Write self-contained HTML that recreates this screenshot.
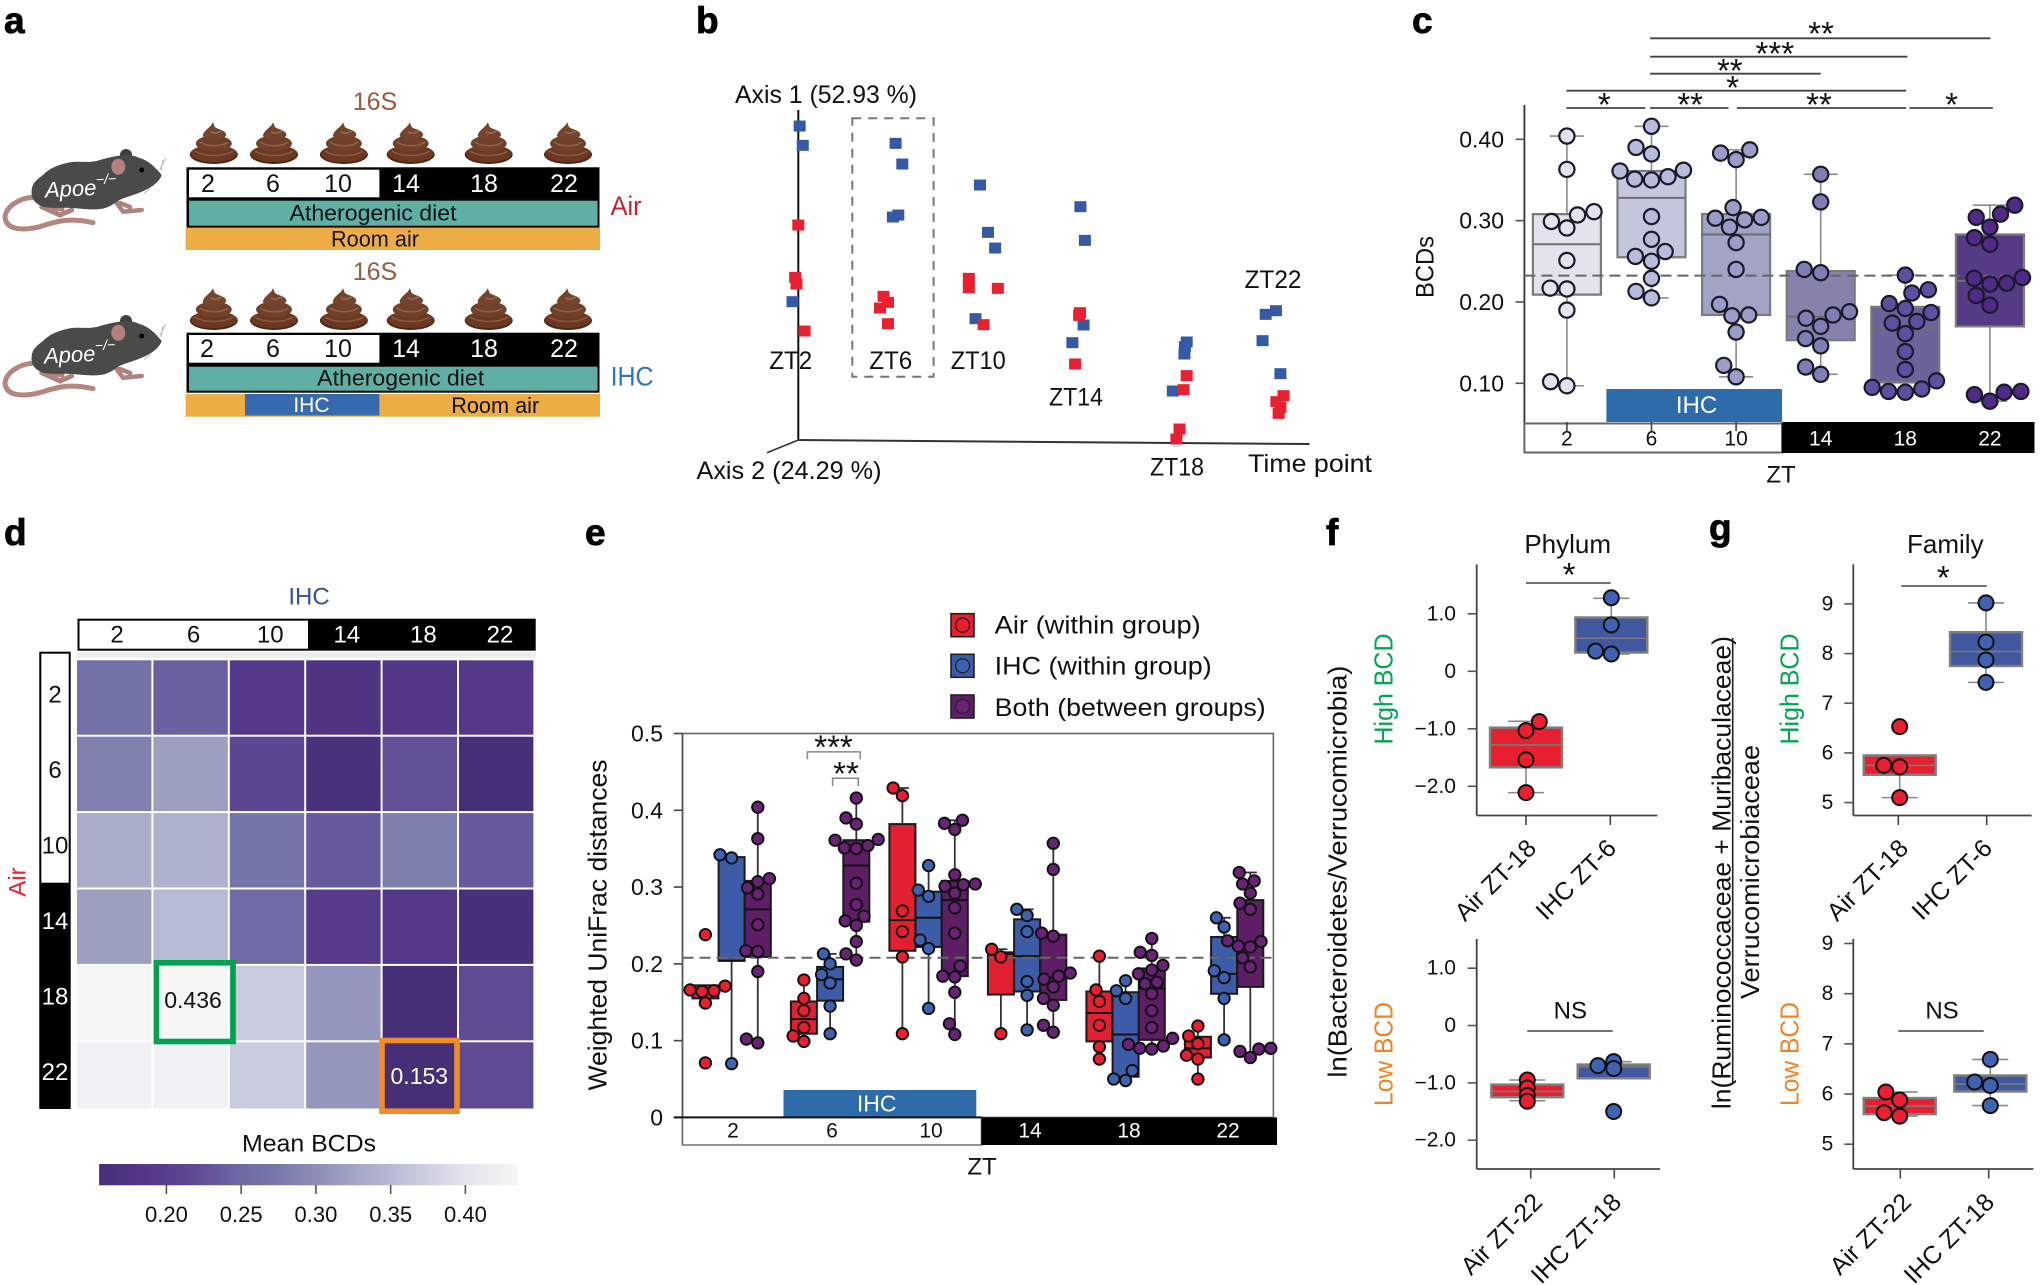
<!DOCTYPE html>
<html lang="en">
<head>
<meta charset="utf-8">
<title>Gut microbiome diurnal dissimilarity figure</title>
<style>
html,body{margin:0;padding:0;background:#fff;}
svg{display:block;font-family:"Liberation Sans",sans-serif;}
text{dominant-baseline:central;fill:#111;}
.letter{font-weight:bold;font-size:37px;dominant-baseline:auto;fill:#000;stroke:#000;stroke-width:.8px;}
</style>
</head>
<body>
<svg id="figure" xmlns="http://www.w3.org/2000/svg" width="2040" height="1285" viewBox="0 0 2040 1285">
<defs>
<g id="poop-shape">
<ellipse cx="0" cy="32.5" rx="24" ry="9.5" fill="#53260f"/>
<ellipse cx="0" cy="31.5" rx="23" ry="8.5" fill="#6b3922"/>
<path d="M-19 29 C-10 35,10 35,19 29" fill="none" stroke="#8b5a40" stroke-width="1.6"/>
<ellipse cx="0" cy="21.5" rx="18" ry="8" fill="#70402a"/>
<path d="M-14 20 C-7 25,8 25,14 20" fill="none" stroke="#8f6046" stroke-width="1.6"/>
<path d="M-1 0 C-2 5,-9 7,-11 13 C-12 18.5,10 19.5,12.5 13 C12 8,5 8,1 5 Z" fill="#744430"/>
<path d="M-3 10 C1 12,4 11,8 9" fill="none" stroke="#966850" stroke-width="1.6"/>
</g>
<g id="mouse-shape">
<path d="M33 197.3 C20 198,6 206,5 217 C6 230,22 231,40 226.7 C54 222,68 217,93 222.7" fill="none" stroke="#b5857f" stroke-width="5" stroke-linecap="round"/>
<path d="M41.7 206.7 L60 215 L71.7 210 M50 207 L62 209" fill="none" stroke="#b0827e" stroke-width="5" stroke-linecap="round"/>
<path d="M116.7 203 L123 211.7 L141.7 210 M120 203 L130 207" fill="none" stroke="#b0827e" stroke-width="4.5" stroke-linecap="round"/>
<circle cx="126" cy="155" r="6" fill="#3f3f3f"/>
<path d="M161.7 175 C156 168,148 160,140 158.3 C130 153,118 155,100 160 C88 164,78 160,66.7 163 C54 166,48 170,43 175 C36 180,32 184,31.7 190 C31 197,33 203,43 206.7 C55 209,62 207,73 208 C84 209,92 210,100 209 C108 208,112 205,116.7 201.7 C122 198,128 197,133 195 C142 192,158 186,161.7 175 Z" fill="#4a4a49"/>
<ellipse cx="118.3" cy="166.7" rx="7" ry="8" fill="#b5817f"/>
<circle cx="141.7" cy="170" r="2.5" fill="#000"/>
<path d="M160 169 L166 158 M161 171 L163 160 M150 188 L144 194" stroke="#bbb" stroke-width="1" fill="none"/>
</g>
</defs>

<text class="letter" x="4" y="33">a</text>
<text class="letter" x="696" y="33">b</text>
<text class="letter" x="1412" y="33">c</text>
<text class="letter" x="4" y="545">d</text>
<text class="letter" x="585" y="545">e</text>
<text class="letter" x="1326" y="545">f</text>
<text class="letter" x="1709" y="540">g</text>

<g id="panel-a">
<use href="#mouse-shape"/>
<use href="#mouse-shape" y="166"/>
<text transform="translate(45 190) rotate(-3)" font-size="22" font-style="italic" style="fill:#fff">Apoe<tspan font-size="14" dy="-8" style="fill:#fff">−/−</tspan></text>
<text transform="translate(44 356) rotate(-3)" font-size="22" font-style="italic" style="fill:#fff">Apoe<tspan font-size="14" dy="-8" style="fill:#fff">−/−</tspan></text>

<text x="375" y="102" text-anchor="middle" font-size="25" style="fill:#9c5c3c">16S</text>
<text x="375" y="272" text-anchor="middle" font-size="25" style="fill:#9c5c3c">16S</text>

<use href="#poop-shape" x="213.8" y="122"/>
<use href="#poop-shape" x="274" y="122"/>
<use href="#poop-shape" x="343.9" y="122"/>
<use href="#poop-shape" x="410.7" y="122"/>
<use href="#poop-shape" x="488.7" y="122"/>
<use href="#poop-shape" x="568" y="122"/>
<use href="#poop-shape" x="213.8" y="288"/>
<use href="#poop-shape" x="274" y="288"/>
<use href="#poop-shape" x="343.9" y="288"/>
<use href="#poop-shape" x="410.7" y="288"/>
<use href="#poop-shape" x="488.7" y="288"/>
<use href="#poop-shape" x="568" y="288"/>

<rect x="186.5" y="167.3" width="413" height="60.4" fill="#000"/>
<rect x="189" y="169.7" width="190.4" height="27.6" fill="#fff"/>
<rect x="189" y="200.7" width="408.6" height="25" fill="#5fafa5"/>
<rect x="185.6" y="228" width="414.4" height="22" fill="#eeac44"/>
<text x="208" y="184" text-anchor="middle" font-size="25">2</text>
<text x="273" y="184" text-anchor="middle" font-size="25">6</text>
<text x="338" y="184" text-anchor="middle" font-size="25">10</text>
<text x="406" y="184" text-anchor="middle" font-size="25" style="fill:#fff">14</text>
<text x="484" y="184" text-anchor="middle" font-size="25" style="fill:#fff">18</text>
<text x="564" y="184" text-anchor="middle" font-size="25" style="fill:#fff">22</text>
<text x="373" y="213" text-anchor="middle" font-size="22" textLength="167" lengthAdjust="spacingAndGlyphs">Atherogenic diet</text>
<text x="375" y="239" text-anchor="middle" font-size="22" textLength="88" lengthAdjust="spacingAndGlyphs">Room air</text>
<text x="610.6" y="206" font-size="27" textLength="31" lengthAdjust="spacingAndGlyphs" style="fill:#c8202f">Air</text>

<rect x="186.5" y="332.7" width="413" height="60" fill="#000"/>
<rect x="189" y="335" width="190.4" height="27.7" fill="#fff"/>
<rect x="189" y="366.7" width="408.6" height="24" fill="#5fafa5"/>
<rect x="185.6" y="394" width="414.4" height="22.7" fill="#eeac44"/>
<rect x="245" y="394" width="134.4" height="21.5" fill="#366aae"/>
<text x="207" y="349" text-anchor="middle" font-size="25">2</text>
<text x="273" y="349" text-anchor="middle" font-size="25">6</text>
<text x="338" y="349" text-anchor="middle" font-size="25">10</text>
<text x="406" y="349" text-anchor="middle" font-size="25" style="fill:#fff">14</text>
<text x="484" y="349" text-anchor="middle" font-size="25" style="fill:#fff">18</text>
<text x="564" y="349" text-anchor="middle" font-size="25" style="fill:#fff">22</text>
<text x="400.7" y="378" text-anchor="middle" font-size="22" textLength="167" lengthAdjust="spacingAndGlyphs">Atherogenic diet</text>
<text x="311.4" y="405.7" text-anchor="middle" font-size="21" style="fill:#fff">IHC</text>
<text x="495.2" y="405.7" text-anchor="middle" font-size="22" textLength="88" lengthAdjust="spacingAndGlyphs">Room air</text>
<text x="610.6" y="376.7" font-size="27" textLength="43" lengthAdjust="spacingAndGlyphs" style="fill:#2e75bf">IHC</text>
</g>

<g id="panel-b">
<line x1="798.3" y1="110" x2="798.3" y2="440" stroke="#111" stroke-width="2"/>
<line x1="798.3" y1="440" x2="1309.5" y2="444" stroke="#333" stroke-width="2"/>
<line x1="798.3" y1="440" x2="767" y2="452.7" stroke="#333" stroke-width="1.6"/>
<rect x="852.3" y="118.3" width="81.3" height="258.4" fill="none" stroke="#777" stroke-width="2" stroke-dasharray="9 7"/>
<text x="735" y="95" font-size="25" textLength="182" lengthAdjust="spacingAndGlyphs">Axis 1 (52.93 %)</text>
<text x="696.5" y="471" font-size="25" textLength="185" lengthAdjust="spacingAndGlyphs">Axis 2 (24.29 %)</text>
<text x="1248" y="464" font-size="25" textLength="124" lengthAdjust="spacingAndGlyphs">Time point</text>
<text x="790.7" y="361" text-anchor="middle" font-size="25" textLength="43" lengthAdjust="spacingAndGlyphs">ZT2</text>
<text x="890.7" y="361" text-anchor="middle" font-size="25" textLength="43" lengthAdjust="spacingAndGlyphs">ZT6</text>
<text x="978.2" y="361" text-anchor="middle" font-size="25" textLength="55" lengthAdjust="spacingAndGlyphs">ZT10</text>
<text x="1076" y="397.3" text-anchor="middle" font-size="25" textLength="54" lengthAdjust="spacingAndGlyphs">ZT14</text>
<text x="1177" y="467.3" text-anchor="middle" font-size="25" textLength="54" lengthAdjust="spacingAndGlyphs">ZT18</text>
<text x="1273" y="280" text-anchor="middle" font-size="25" textLength="57" lengthAdjust="spacingAndGlyphs">ZT22</text>
</g>

<g id="panel-c">
<text transform="translate(1425.5 267) rotate(-90)" text-anchor="middle" font-size="25" textLength="62" lengthAdjust="spacingAndGlyphs">BCDs</text>
<text x="1781" y="475" text-anchor="middle" font-size="24">ZT</text>
</g>

<g id="panel-d">
<text x="309" y="597" text-anchor="middle" font-size="24" style="fill:#3850a0">IHC</text>
<text transform="translate(18 882) rotate(-90)" text-anchor="middle" font-size="24" style="fill:#e8262f">Air</text>
<text x="309" y="1144" text-anchor="middle" font-size="24" textLength="134" lengthAdjust="spacingAndGlyphs">Mean BCDs</text>
</g>

<g id="panel-e">
<text transform="translate(597.5 925) rotate(-90)" text-anchor="middle" font-size="26" textLength="331" lengthAdjust="spacingAndGlyphs">Weighted UniFrac distances</text>
<text x="982" y="1167" text-anchor="middle" font-size="24">ZT</text>
<rect x="951" y="613.7" width="23" height="23" fill="#e2202f" stroke="#222" stroke-width="1.6"/>
<circle cx="962.6" cy="625.2" r="7" fill="#ed1c2e" stroke="#222" stroke-width="1.3"/>
<rect x="951" y="654.3" width="23" height="23" fill="#3c5ca8" stroke="#222" stroke-width="1.6"/>
<circle cx="962.6" cy="665.8" r="7" fill="#3d63b0" stroke="#222" stroke-width="1.3"/>
<rect x="951" y="695" width="23" height="23" fill="#5e1e66" stroke="#222" stroke-width="1.6"/>
<circle cx="962.6" cy="706.5" r="7" fill="#6a2277" stroke="#222" stroke-width="1.3"/>
<text x="994.7" y="625.6" font-size="25" textLength="206" lengthAdjust="spacingAndGlyphs">Air (within group)</text>
<text x="994.7" y="666.5" font-size="25" textLength="217" lengthAdjust="spacingAndGlyphs">IHC (within group)</text>
<text x="994.7" y="708" font-size="25" textLength="271" lengthAdjust="spacingAndGlyphs">Both (between groups)</text>
</g>

<g id="panel-fg-titles">
<text x="1567.7" y="544" text-anchor="middle" font-size="26">Phylum</text>
<text x="1945.3" y="544" text-anchor="middle" font-size="26">Family</text>
<text transform="translate(1337.3 871.6) rotate(-90)" text-anchor="middle" font-size="26" textLength="412" lengthAdjust="spacingAndGlyphs">ln(Bacteroidetes/Verrucomicrobia)</text>
<text transform="translate(1383.3 689) rotate(-90)" text-anchor="middle" font-size="26" textLength="111" lengthAdjust="spacingAndGlyphs" style="fill:#00a651">High BCD</text>
<text transform="translate(1383.3 1054) rotate(-90)" text-anchor="middle" font-size="26" textLength="104" lengthAdjust="spacingAndGlyphs" style="fill:#f58220">Low BCD</text>
<text transform="translate(1721.7 872.6) rotate(-90)" text-anchor="middle" font-size="26" textLength="473" lengthAdjust="spacingAndGlyphs">ln(Ruminococcaceae + Muribaculaceae)</text>
<line x1="1732.7" y1="638" x2="1732.7" y2="1084" stroke="#222" stroke-width="1.6"/>
<text transform="translate(1750 872) rotate(-90)" text-anchor="middle" font-size="26" textLength="254" lengthAdjust="spacingAndGlyphs">Verrucomicrobiaceae</text>
<text transform="translate(1789.3 689) rotate(-90)" text-anchor="middle" font-size="26" textLength="111" lengthAdjust="spacingAndGlyphs" style="fill:#00a651">High BCD</text>
<text transform="translate(1789.3 1054) rotate(-90)" text-anchor="middle" font-size="26" textLength="104" lengthAdjust="spacingAndGlyphs" style="fill:#f58220">Low BCD</text>
</g>
</svg>

<script>
/* ---------- panel b data ---------- */
const pcoaIhcTime = [.003,.010,-.013,.218,.233,.224,.212,.407,.425,.441,.397,.632,.642,.639,.614,.870,.866,.865,.839,1.070,1.047,1.040,1.080];
const pcoaIhcAxis1 = [.942,.884,.415,.890,.828,.675,.669,.765,.623,.576,.364,.700,.599,.345,.292,.294,.280,.258,.147,.388,.377,.298,.199];
const pcoaAirTime = [.000,-.007,-.004,.014,.191,.201,.183,.201,.382,.382,.447,.415,.631,.629,.620,.870,.863,.854,.847,1.087,1.071,1.080,1.076];
const pcoaAirAxis1 = [.645,.488,.468,.327,.431,.413,.396,.349,.485,.457,.455,.346,.382,.374,.228,.193,.151,.033,.003,.133,.115,.098,.080];

/* ---------- panels c and e data ---------- */
const ztLabels = ['2','6','10','14','18','22'];
const bcdTickValues = [.40,.30,.20,.10];
const bcdTickLabels = ['0.40','0.30','0.20','0.10'];
const bcdMeanLine = .2324;
const bcdZt2 = [.404,.363,.311,.307,.299,.291,.251,.217,.216,.190,.102,.097];
const bcdZt6 = [.416,.390,.382,.362,.361,.354,.351,.350,.305,.277,.262,.256,.250,.229,.213,.205];
const bcdZt10 = [.387,.383,.375,.316,.304,.303,.301,.292,.273,.240,.197,.184,.183,.163,.122,.108];
const bcdZt14 = [.357,.323,.240,.236,.188,.184,.180,.170,.155,.146,.120,.111];
const bcdZt18 = [.233,.215,.211,.198,.192,.187,.176,.174,.161,.139,.117,.103,.095,.093,.090,.089];
const bcdZt22 = [.319,.308,.304,.292,.279,.271,.230,.229,.223,.222,.208,.196,.090,.089,.086,.078];
const bcdPoints = [bcdZt2,bcdZt6,bcdZt10,bcdZt14,bcdZt18,bcdZt22];
const bcdLow = [.097,.205,.108,.111,.089,.078];
const bcdQ1 = [.209,.255,.184,.153,.101,.170];
const bcdMedian = [.271,.328,.283,.182,.168,.226];
const bcdQ3 = [.308,.361,.308,.238,.194,.283];
const bcdHigh = [.404,.416,.387,.357,.233,.319];

const unifracTickValues = [0,.1,.2,.3,.4,.5];
const unifracTickLabels = ['0','0.1','0.2','0.3','0.4','0.5'];
const unifracMeanLine = .208;
const airZt2 = [.238,.171,.166,.165,.164,.149,.071];
const airZt6 = [.179,.155,.139,.117,.106,.099];
const airZt10 = [.429,.419,.269,.242,.209,.109];
const airZt14 = [.219,.209,.109];
const airZt18 = [.210,.166,.151,.120,.092,.076];
const airZt22 = [.119,.106,.096,.081,.076,.050];
const airPoints = [airZt2,airZt6,airZt10,airZt14,airZt18,airZt22];
const airLow = [.155,.099,.109,.109,.076,.050];
const airQ1 = [.155,.109,.217,.160,.099,.078];
const airMedian = [.163,.128,.257,.213,.136,.090];
const airQ3 = [.172,.151,.382,.215,.164,.105];
const airHigh = [.172,.179,.429,.219,.210,.119];
const ihcZt2 = [.342,.338,.070];
const ihcZt6 = [.213,.200,.186,.175,.145,.109];
const ihcZt10 = [.328,.296,.288,.231,.220,.142];
const ihcZt14 = [.271,.263,.242,.177,.159,.114];
const ihcZt18 = [.178,.165,.155,.061,.050,.048];
const ihcZt22 = [.260,.248,.191,.182,.155,.101];
const ihcPoints = [ihcZt2,ihcZt6,ihcZt10,ihcZt14,ihcZt18,ihcZt22];
const ihcLow = [.070,.109,.142,.114,.048,.101];
const ihcQ1 = [.204,.152,.222,.164,.053,.161];
const ihcMedian = [.204,.180,.260,.210,.108,.187];
const ihcQ3 = [.339,.196,.294,.258,.163,.235];
const ihcHigh = [.339,.213,.328,.271,.178,.260];

/* ---------- panel d data ---------- */
const heatRow2 = [.262,.240,.190,.175,.185,.190];
const heatRow6 = [.285,.320,.215,.160,.225,.155];
const heatRow10 = [.335,.340,.268,.235,.280,.235];
const heatRow14 = [.320,.350,.250,.195,.190,.158];
const heatRow18 = [.435,.436,.370,.310,.153,.220];
const heatRow22 = [.425,.425,.370,.310,.153,.220];
const heatValues = [heatRow2,heatRow6,heatRow10,heatRow14,heatRow18,heatRow22];
const colorbarTicks = [.20,.25,.30,.35,.40];
const colorbarTickLabels = ['0.20','0.25','0.30','0.35','0.40'];

/* ---------- panels f and g data ---------- */
const fHighCategories = ['Air ZT-18','IHC ZT-6'];
const fHighTicks = [1,0,-1,-2];
const fHighTickLabels = ['1.0','0','−1.0','−2.0'];
const fHighAir = [-.875,-1.03,-1.54,-2.11];
const fHighIhc = [1.28,.807,.35,.30];
const fHighLow = [-2.11,.30];
const fHighQ1 = [-1.67,.326];
const fHighMedian = [-1.28,.575];
const fHighQ3 = [-.98,.936];
const fHighHigh = [-.87,1.27];

const fLowCategories = ['Air ZT-22','IHC ZT-18'];
const fLowTicks = [1,0,-1,-2];
const fLowTickLabels = ['1.0','0','−1.0','−2.0'];
const fLowAir = [-.95,-1.09,-1.22,-1.32];
const fLowIhc = [-.63,-.70,-.75,-1.5];
const fLowLow = [-1.31,-.92];
const fLowQ1 = [-1.25,-.92];
const fLowMedian = [-1.15,-.72];
const fLowQ3 = [-1.03,-.68];
const fLowHigh = [-.95,-.63];

const gHighCategories = ['Air ZT-18','IHC ZT-6'];
const gHighTicks = [9,8,7,6,5];
const gHighTickLabels = ['9','8','7','6','5'];
const gHighAir = [6.53,5.75,5.72,5.10];
const gHighIhc = [9.02,8.23,7.87,7.42];
const gHighLow = [5.10,7.42];
const gHighQ1 = [5.56,7.75];
const gHighMedian = [5.75,8.04];
const gHighQ3 = [5.95,8.43];
const gHighHigh = [5.95,9.02];

const gLowCategories = ['Air ZT-22','IHC ZT-18'];
const gLowTicks = [9,8,7,6,5];
const gLowTickLabels = ['9','8','7','6','5'];
const gLowAir = [6.04,5.88,5.63,5.56];
const gLowIhc = [6.69,6.24,6.17,5.77];
const gLowLow = [5.56,5.77];
const gLowQ1 = [5.60,6.05];
const gLowMedian = [5.76,6.20];
const gLowQ3 = [5.92,6.37];
const gLowHigh = [6.04,6.69];

/* ---------- helpers ---------- */
const NS = 'http://www.w3.org/2000/svg';
const figure = document.getElementById('figure');
function linear(v0,p0,v1,p1){ return v => p0 + (v-v0)*(p1-p0)/(v1-v0); }
function shape(parent,tag,attrs,name){
  const s = document.createElementNS(NS,tag);
  for(const k in attrs) s.setAttribute(k,attrs[k]);
  
  
  parent.appendChild(s);
  return s;
}
function line(parent,x1,y1,x2,y2,stroke,w,name,dash){
  const a = {x1,y1,x2,y2,stroke,'stroke-width':w};
  if(dash) a['stroke-dasharray'] = dash;
  return shape(parent,'line',a,name);
}
function label(parent,x,y,str,size,name,opts){
  opts = opts || {};
  const a = {'font-size':size,'text-anchor':opts.anchor||'middle'};
  if(opts.rotate!==undefined) a.transform = 'translate('+x+' '+y+') rotate('+opts.rotate+')';
  else { a.x = x; a.y = y; }
  const t = shape(parent,'text',a,name);
  if(opts.fill) t.style.fill = opts.fill;
  t.textContent = str;
  return t;
}
function stars(parent,x,yCenter,str,name){
  return label(parent,x,yCenter+4.5,str,33,name);
}
/* beeswarm layout: ascending values, closest free slot to the centre.
   stack = minimum vertical gap at which points may share the same x. */
function swarm(values,y,d,side,stack){
  const order = values.map((v,i)=>i).sort((a,b)=>values[a]-values[b]);
  const placed = [];
  const out = new Array(values.length).fill(0);
  order.forEach(i=>{
    const py = y(values[i]);
    const cands = [0];
    placed.forEach(p=>{
      const dy = Math.abs(p.y-py);
      if(dy<d){
        const dx = Math.sqrt(d*d-dy*dy);
        cands.push(p.x+side*dx, p.x-side*dx);
      }
    });
    cands.sort((a,b)=>Math.abs(a)-Math.abs(b));
    let chosen = 0;
    for(const c of cands){
      const free = placed.every(p=>{
        if(Math.abs(p.x-c)<.01 && Math.abs(p.y-py)>=stack) return true;
        return Math.hypot(p.x-c,p.y-py)>=d-.001;
      });
      if(free){ chosen = c; break; }
    }
    placed.push({x:chosen,y:py});
    out[i] = chosen;
  });
  return out;
}
function boxSwarm(g,dotsLayer,prefix,cx,w,lo,q1,med,q3,hi,vals,y,s){
  const half = w/2, capHalf = w*s.cap/2;
  line(g,cx,y(q3),cx,y(hi),s.whisker,s.whiskerW,prefix+'-whisker-high');
  line(g,cx,y(q1),cx,y(lo),s.whisker,s.whiskerW,prefix+'-whisker-low');
  if(hi>q3) line(g,cx-capHalf,y(hi),cx+capHalf,y(hi),s.whisker,s.whiskerW,prefix+'-cap-high');
  if(lo<q1) line(g,cx-capHalf,y(lo),cx+capHalf,y(lo),s.whisker,s.whiskerW,prefix+'-cap-low');
  shape(g,'rect',{x:cx-half,y:y(q3),width:w,height:y(q1)-y(q3),fill:s.fill,stroke:s.stroke,'stroke-width':s.strokeW},prefix+'-box');
  line(g,cx-half,y(med),cx+half,y(med),s.medStroke,s.medW,prefix+'-median');
  const off = swarm(vals,y,s.d,s.side,s.stack===undefined?Infinity:s.stack);
  vals.forEach((v,i)=>{
    shape(dotsLayer,'circle',{cx:cx+off[i],cy:y(v),r:s.r,fill:s.point,stroke:s.pointStroke,'stroke-width':s.pointW},prefix+'-point');
  });
}

/* ---------- panel b ---------- */
(function(){
  const g = document.getElementById('panel-b');
  const x = linear(0,798.3,1,1244.7);
  const y = linear(0,440,1,106.7);
  pcoaIhcTime.forEach((t,i)=>{
    shape(g,'rect',{x:x(t)-6,y:y(pcoaIhcAxis1[i])-5.5,width:12,height:11,fill:'#3559a6'},'ihc-sample-point');
  });
  pcoaAirTime.forEach((t,i)=>{
    shape(g,'rect',{x:x(t)-6,y:y(pcoaAirAxis1[i])-5.5,width:12,height:11,fill:'#e8202f'},'air-sample-point');
  });
})();

/* ---------- panel c ---------- */
(function(){
  const g = document.getElementById('panel-c');
  const y = linear(.4,139.3,.1,383.3);
  const x = i => 1566.9 + i*84.6;
  const axisX = 1524.4;
  line(g,axisX,105,axisX,423,'#333',1.8,'c-y-axis');
  bcdTickValues.forEach((v,i)=>{
    line(g,1515.5,y(v),axisX,y(v),'#555',1.6,'c-y-tick');
    label(g,1504,y(v),bcdTickLabels[i],23,'c-y-tick-label',{anchor:'end'});
  });
  shape(g,'rect',{x:1606.4,y:389,width:175.6,height:33,fill:'#2e6bab'},'c-ihc-period-bar');
  label(g,1696.5,405.6,'IHC',24,'c-ihc-period-label',{fill:'#fff'});
  shape(g,'rect',{x:axisX,y:423.5,width:257.6,height:29,fill:'#fff',stroke:'#666','stroke-width':2},'c-light-phase-band');
  shape(g,'rect',{x:1782,y:422,width:252.5,height:31,fill:'#000'},'c-dark-phase-band');
  ztLabels.forEach((z,i)=>{
    if(i<3) line(g,x(i),422,x(i),431,'#444',1.6,'c-x-tick');
    label(g,x(i),439,z,21,'c-x-tick-label',{fill:i<3?'#111':'#fff'});
  });
  const fills = ['#e2e3ed','#c3c6dd','#a2a3c5','#8583ac','#6b649a','#553a85'];
  const dots = ['#e3e3ef','#b7bcdc','#9b9cc8','#7f7fb5','#5f4fa0','#4f2a87'];
  const boxes = shape(g,'g',{},'c-boxes');
  line(g,axisX,y(bcdMeanLine),2034,y(bcdMeanLine),'#666',2,'c-mean-dashed-line','11 6');
  const points = shape(g,'g',{},'c-points');
  bcdPoints.forEach((vals,i)=>{
    boxSwarm(boxes,points,'c-zt'+ztLabels[i],x(i),68,bcdLow[i],bcdQ1[i],bcdMedian[i],bcdQ3[i],bcdHigh[i],vals,y,{
      fill:fills[i],stroke:'#7b7b7b',strokeW:2.2,medStroke:'#6f6f6f',medW:2,whisker:'#8a8a8a',whiskerW:1.6,cap:.5,
      point:dots[i],pointStroke:'#1a1a2a',pointW:2.2,r:7.6,d:16.8,side:-1});
  });
  const sigLines = [[1650.2,1990.3,38.3],[1650.2,1907.4,56.7],[1650.2,1820.7,73.7],[1566.4,1906.1,90.7],[1566.4,1645.2,108],[1650.2,1728.5,108],[1736.9,1906.1,108],[1909.5,1992.8,108]];
  sigLines.forEach(s=>{ line(g,s[0],s[2],s[1],s[2],'#444',1.8,'c-significance-line'); });
  stars(g,1821,29,'**','c-significance-stars');
  stars(g,1774.8,49,'***','c-significance-stars');
  stars(g,1729.8,66,'**','c-significance-stars');
  stars(g,1732.7,83,'*','c-significance-stars');
  stars(g,1604.3,100,'*','c-significance-stars');
  stars(g,1690.2,100,'**','c-significance-stars');
  stars(g,1819,100,'**','c-significance-stars');
  stars(g,1951.6,100,'*','c-significance-stars');
})();

/* ---------- panel d ---------- */
(function(){
  const g = document.getElementById('panel-d');
  const domain = [.153,.19,.22,.25,.27,.30,.33,.36,.40,.436];
  const colors = ['#472f78','#54388a','#5f4a93','#6f6ba5','#7476a9','#8d8db5','#a5a8c7','#c0c3da','#e4e4ed','#f6f6f6'];
  function hexRgb(h){ return [1,3,5].map(i=>parseInt(h.substr(i,2),16)); }
  function color(v){
    let k = 0;
    while(k<domain.length-2 && v>domain[k+1]) k++;
    const t = Math.max(0,Math.min(1,(v-domain[k])/(domain[k+1]-domain[k])));
    const a = hexRgb(colors[k]), b = hexRgb(colors[k+1]);
    return 'rgb('+a.map((c,j)=>Math.round(c+(b[j]-c)*t)).join(',')+')';
  }
  const col = i => 77 + i*76.4;
  const row = i => 660.3 + i*76.4;
  const defs = figure.querySelector('defs');
  const clip = shape(defs,'clipPath',{id:'heat-clip'},'heatmap-clip');
  shape(clip,'rect',{x:70,y:655,width:470,height:453.5},'heatmap-clip-area');
  const cells = shape(g,'g',{'clip-path':'url(#heat-clip)'},'heatmap-cells');
  heatValues.forEach((r,ri)=>{
    r.forEach((v,ci)=>{
      shape(cells,'rect',{x:col(ci),y:row(ri),width:74.4,height:74.4,fill:color(v)},'heatmap-cell');
    });
  });
  /* top band */
  shape(g,'rect',{x:77.5,y:618.7,width:458.2,height:32,fill:'#000'},'d-column-band');
  shape(g,'rect',{x:79.5,y:620.7,width:228.5,height:28,fill:'#fff'},'d-column-light-phase');
  shape(g,'rect',{x:77,y:652,width:458.7,height:5.7,fill:'#ecedf0'},'d-column-spacer');
  ztLabels.forEach((z,i)=>{
    label(g,117+i*76.6,635,z,24,'d-column-label',{fill:i<3?'#111':'#fff'});
  });
  /* left band */
  shape(g,'rect',{x:39.3,y:651.7,width:31.4,height:457.3,fill:'#000'},'d-row-band');
  shape(g,'rect',{x:41.3,y:653.7,width:27.4,height:229,fill:'#fff'},'d-row-light-phase');
  ztLabels.forEach((z,i)=>{
    label(g,55,695+i*75.5,z,24,'d-row-label',{fill:i<3?'#111':'#fff'});
  });
  shape(g,'rect',{x:156.4,y:962.8,width:76.6,height:78.7,fill:'none',stroke:'#00a14f','stroke-width':5.6},'highest-bcd-highlight');
  shape(g,'rect',{x:382,y:1040.5,width:75,height:70.7,fill:'none',stroke:'#f08c2a','stroke-width':5.6},'lowest-bcd-highlight');
  label(g,193,1000,'0.436',23,'highest-bcd-value');
  label(g,419.3,1076,'0.153',23,'lowest-bcd-value',{fill:'#fff'});
  /* colour bar */
  const bar = linear(.2,166.4,.4,465.4);
  const grad = shape(defs,'linearGradient',{id:'bcd-gradient',x1:0,x2:1,y1:0,y2:0},'colorbar-gradient');
  const lo = .155, hi = .435;
  for(let k=0;k<=28;k++){
    const v = lo + (hi-lo)*k/28;
    shape(grad,'stop',{offset:(k/28),'stop-color':color(v)},'colorbar-stop');
  }
  shape(g,'rect',{x:bar(lo),y:1164,width:bar(hi)-bar(lo),height:21.3,fill:'url(#bcd-gradient)'},'colorbar');
  colorbarTicks.forEach((v,i)=>{
    line(g,bar(v),1185,bar(v),1194,'#555',1.6,'colorbar-tick');
    label(g,bar(v),1214.3,colorbarTickLabels[i],22,'colorbar-tick-label');
  });
})();

/* ---------- panel e ---------- */
(function(){
  const g = document.getElementById('panel-e');
  const y = linear(0,1117.4,.5,733.5);
  const x = (i,s) => 731.6 + 98.5*i + (s-1)*26.2;
  shape(g,'rect',{x:682.5,y:y(.5),width:590.9,height:y(0)-y(.5),fill:'none',stroke:'#666','stroke-width':1.6},'e-plot-frame');
  line(g,682.5,y(.5),682.5,1145,'#555',1.6,'e-y-axis');
  unifracTickValues.forEach((v,i)=>{
    line(g,673.8,y(v),682.5,y(v),'#444',1.6,'e-y-tick');
    label(g,663,y(v),unifracTickLabels[i],23,'e-y-tick-label',{anchor:'end'});
  });
  shape(g,'rect',{x:783.5,y:1090,width:192.8,height:27.4,fill:'#2e6bab'},'e-ihc-period-bar');
  label(g,876.7,1103.7,'IHC',23,'e-ihc-period-label',{fill:'#fff'});
  shape(g,'rect',{x:682.5,y:1117.4,width:298.9,height:27.6,fill:'#fff',stroke:'#666','stroke-width':1.4},'e-light-phase-band');
  shape(g,'rect',{x:981.4,y:1117.4,width:295.6,height:27.6,fill:'#000'},'e-dark-phase-band');
  line(g,673.8,1117.4,981.4,1117.4,'#111',2,'e-x-axis');
  ztLabels.forEach((z,i)=>{
    label(g,733+i*99,1131,z,21,'e-x-tick-label',{fill:i<3?'#111':'#fff'});
  });
  const style = (fill,point)=>({fill,stroke:'#1a1a1a',strokeW:2,medStroke:'#111',medW:2,whisker:'#333',whiskerW:1.8,cap:.5,
    point,pointStroke:'#111',pointW:1.9,r:5.7,d:12,side:-1});
  const boxes = shape(g,'g',{},'e-boxes');
  line(g,682.5,y(unifracMeanLine),1273.4,y(unifracMeanLine),'#666',2,'e-mean-dashed-line','11 6');
  const points = shape(g,'g',{},'e-points');
  ztLabels.forEach((z,i)=>{
    boxSwarm(boxes,points,'e-air-zt'+z,x(i,0),26,airLow[i],airQ1[i],airMedian[i],airQ3[i],airHigh[i],airPoints[i],y,style('#e2202f','#ed1c2e'));
    boxSwarm(boxes,points,'e-ihc-zt'+z,x(i,1),26,ihcLow[i],ihcQ1[i],ihcMedian[i],ihcQ3[i],ihcHigh[i],ihcPoints[i],y,style('#3c5ca8','#3d63b0'));
    boxSwarm(boxes,points,'e-both-zt'+z,x(i,2),26,bcdLow[i],bcdQ1[i],bcdMedian[i],bcdQ3[i],bcdHigh[i],bcdPoints[i],y,style('#5e1e66','#6a2277'));
  });
  shape(g,'path',{d:'M807.4 759.2 V751.9 H860.2 V759.2',fill:'none',stroke:'#888','stroke-width':1.5},'e-significance-bracket');
  shape(g,'path',{d:'M832.6 786 V778.3 H858.3 V786',fill:'none',stroke:'#888','stroke-width':1.5},'e-significance-bracket');
  stars(g,833.5,742.3,'***','e-significance-stars');
  stars(g,846,769,'**','e-significance-stars');
})();

/* ---------- panels f and g ---------- */
function miniPanel(c){
  const g = shape(figure,'g',{},c.id+'-boxplot');
  line(g,c.axisX,c.top,c.axisX,c.bottom,'#444',1.8,c.id+'-y-axis');
  line(g,c.axisX,c.bottom,c.right,c.bottom,'#444',1.8,c.id+'-x-axis');
  c.ticks.forEach((v,i)=>{
    line(g,c.axisX-9,c.y(v),c.axisX,c.y(v),'#555',1.6,c.id+'-y-tick');
    label(g,c.tickLabelX,c.y(v),c.tickLabels[i],21,c.id+'-y-tick-label',{anchor:'end'});
  });
  const fills = ['#e81f2e','#41579f'];
  const dots = ['#ec1f30','#3f62b2'];
  c.categories.forEach((name,i)=>{
    line(g,c.tickX[i],c.bottom,c.tickX[i],c.bottom+9.5,'#444',1.6,c.id+'-x-tick');
    label(g,c.labelX[i],c.labelY,name,25,c.id+'-x-tick-label',{anchor:'end',rotate:-45});
    boxSwarm(g,g,c.id+'-'+name.split(' ')[0].toLowerCase(),c.centers[i],72,c.low[i],c.q1[i],c.median[i],c.q3[i],c.high[i],c.points[i],c.y,{
      fill:fills[i],stroke:'#7f7f7f',strokeW:2.4,medStroke:'#7a7a7a',medW:1.6,whisker:'#8a8a8a',whiskerW:1.6,cap:.5,
      point:dots[i],pointStroke:'#111',pointW:2,r:7.5,d:16,side:c.sides[i],stack:c.stack});
  });
  line(g,c.sig[0],c.sig[2],c.sig[1],c.sig[2],'#444',1.6,c.id+'-significance-line');
  if(c.sigText==='*') stars(g,c.sigTextX,c.sigTextY,'*',c.id+'-significance-star');
  else label(g,c.sigTextX,c.sigTextY,c.sigText,24,c.id+'-not-significant-label');
}
miniPanel({id:'f-high',axisX:1476.7,top:564.4,bottom:815.5,right:1657.3,y:linear(1,613.8,-2,786.3),
  ticks:fHighTicks,tickLabels:fHighTickLabels,tickLabelX:1456,categories:fHighCategories,centers:[1526,1611.3],tickX:[1526,1610.3],
  labelX:[1532,1612],labelY:844,low:fHighLow,q1:fHighQ1,median:fHighMedian,q3:fHighQ3,high:fHighHigh,points:[fHighAir,fHighIhc],
  sides:[1,-1],sig:[1526,1610.7,583],sigText:'*',sigTextX:1569,sigTextY:570});
miniPanel({id:'f-low',axisX:1476.7,top:939,bottom:1169,right:1660,y:linear(1,968.2,-2,1140.2),
  ticks:fLowTicks,tickLabels:fLowTickLabels,tickLabelX:1456,categories:fLowCategories,centers:[1527.3,1613.7],tickX:[1530.7,1614.3],
  labelX:[1538,1617],labelY:1198,low:fLowLow,q1:fLowQ1,median:fLowMedian,q3:fLowQ3,high:fLowHigh,points:[fLowAir,fLowIhc],
  sides:[-1,-1],stack:5,sig:[1527.3,1612.7,1031],sigText:'NS',sigTextX:1570.3,sigTextY:1011});
miniPanel({id:'g-high',axisX:1853.3,top:564.4,bottom:815.5,right:2031.7,y:linear(9,603.9,5,802.6),
  ticks:gHighTicks,tickLabels:gHighTickLabels,tickLabelX:1833.3,categories:gHighCategories,centers:[1899.7,1986],tickX:[1898.3,1986.7],
  labelX:[1904,1988],labelY:844,low:gHighLow,q1:gHighQ1,median:gHighMedian,q3:gHighQ3,high:gHighHigh,points:[gHighAir,gHighIhc],
  sides:[-1,-1],sig:[1901.3,1986.7,586],sigText:'*',sigTextX:1943.3,sigTextY:572.8});
miniPanel({id:'g-low',axisX:1853.3,top:939,bottom:1169,right:2033.3,y:linear(9,943.5,5,1144.2),
  ticks:gLowTicks,tickLabels:gLowTickLabels,tickLabelX:1833.3,categories:gLowCategories,centers:[1899.7,1990.3],tickX:[1900.3,1988.7],
  labelX:[1907,1990],labelY:1198,low:gLowLow,q1:gLowQ1,median:gLowMedian,q3:gLowQ3,high:gLowHigh,points:[gLowAir,gLowIhc],
  sides:[-1,-1],sig:[1898.3,1983.7,1031],sigText:'NS',sigTextX:1942,sigTextY:1011});
</script>
</body>
</html>
